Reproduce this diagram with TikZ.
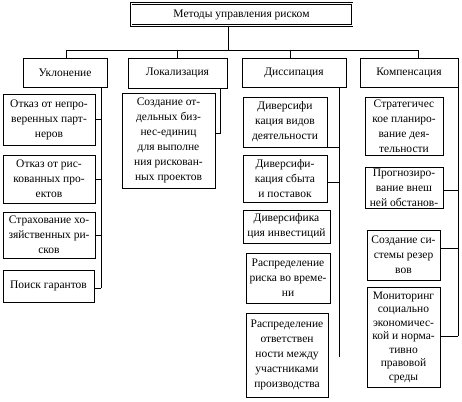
\documentclass[tikz,border=0pt]{standalone}
\usepackage{fontspec}
\setmainfont{Liberation Serif}
\begin{document}
\begin{tikzpicture}[x=1pt,y=-1pt,
  bx/.style={draw,line width=0.6pt,align=center,inner sep=0pt,font=\fontsize{11.5}{15}\selectfont},
  ln/.style={line width=0.7pt}]
\useasboundingbox (0,0) rectangle (462,401);
\newcommand{\bxat}[6]{\node[bx,minimum width=#4-#2,minimum height=#5-#3] (#1) at ({(#2+#4)/2},{(#3+#5)/2}) {#6};}
% title
\node[bx,double,double distance=1pt,minimum width=221pt,minimum height=22pt] (title) at (241.5,14.5) {Методы управления риском};
% categories
\bxat{uk}{23}{58}{107}{87}{Уклонение}
\bxat{lok}{128}{58}{227}{88}{Локализация}
\bxat{dis}{242}{58}{346}{87}{Диссипация}
\bxat{kom}{360}{58}{458}{87}{Компенсация}
% uklonenie
\bxat{u1}{3}{94}{95}{145}{Отказ от непро-\\веренных парт-\\неров}
\bxat{u2}{3}{155}{95}{203}{Отказ от рис-\\кованных про-\\ектов}
\bxat{u3}{3}{212}{95}{258}{Страхование хо-\\зяйственных ри-\\сков}
\bxat{u4}{3}{270}{94}{302}{Поиск гарантов}
% lokalizaciya
\bxat{l1}{122}{93}{215}{188}{Создание от-\\дельных биз-\\нес-единиц\\для выполне\\ния рискован-\\ных проектов}
% dissipaciya
\bxat{d1}{243}{97}{327}{147}{Диверсифи\\кация видов\\деятельности}
\bxat{d2}{243}{155}{327}{202}{Диверсифи-\\кация сбыта\\и поставок}
\bxat{d3}{243}{210}{330}{243}{Диверсифика\\ция инвестиций}
\bxat{d4}{246}{253}{330}{303}{Распределение\\риска во време-\\ни}
\bxat{d5}{246}{313}{328}{397}{Распределение\\ответствен\\ности между\\участниками\\производства}
% kompensaciya
\bxat{k1}{365}{97}{443}{155}{Стратегичес\\кое планиро-\\вание дея-\\тельности}
\bxat{k2}{365}{167}{443}{208}{Прогнозиро-\\вание внеш\\ней обстанов-}
\bxat{k3}{367}{230}{440}{280}{Создание си-\\стемы резер\\вов}
\node[bx,minimum width=73pt,minimum height=100pt,font=\fontsize{11.5}{13.5}\selectfont] (k4) at (403.5,337) {Мониторинг\\социально\\экономичес-\\кой и норма-\\тивно\\правовой\\среды};
% bus
\coordinate (t0) at (228,50);
\coordinate (bL) at (66,50);
\coordinate (bR) at (418,50);
\coordinate (bl2) at (177,50);
\coordinate (bd) at (290,50);
\draw[ln] (title.south -| t0) -- (t0);
\draw[ln] (bL) -- (bR);
\draw[ln] (bL) -- (bL |- uk.north);
\draw[ln] (bl2) -- (bl2 |- lok.north);
\draw[ln] (bd) -- (bd |- dis.north);
\draw[ln] (bR) -- (bR |- kom.north);
% uklonenie spine
\coordinate (uv) at (101,288);
\draw[ln] (uk.south -| uv) -- (uv);
\draw[ln] (u1.east) -- (u1.east -| uv);
\draw[ln] (u2.east) -- (u2.east -| uv);
\draw[ln] (u3.east) -- (u3.east -| uv);
\draw[ln] (u4.east |- uv) -- (uv);
% lokalizaciya spine
\coordinate (lv) at (220,133);
\draw[ln] (lok.south -| lv) -- (lv) -- (l1.east |- lv);
% dissipaciya spine
\coordinate (dv) at (339,357);
\draw[ln] (dis.south -| dv) -- (dv);
\draw[ln] (d1.south east) -- (d1.south east -| dv);
\coordinate (d2c) at (327,182);
\draw[ln] (d2c) -- (d2c -| dv);
% kompensaciya spine
\coordinate (kv) at (458,336);
\draw[ln] (kom.south -| kv) -- (kv);
\coordinate (k2c) at (443,190);
\draw[ln] (k2c) -- (k2c -| kv);
\coordinate (k3c) at (440,248);
\draw[ln] (k3c) -- (k3c -| kv);
\draw[ln] (k4.east |- kv) -- (kv);
\end{tikzpicture}
\end{document}
